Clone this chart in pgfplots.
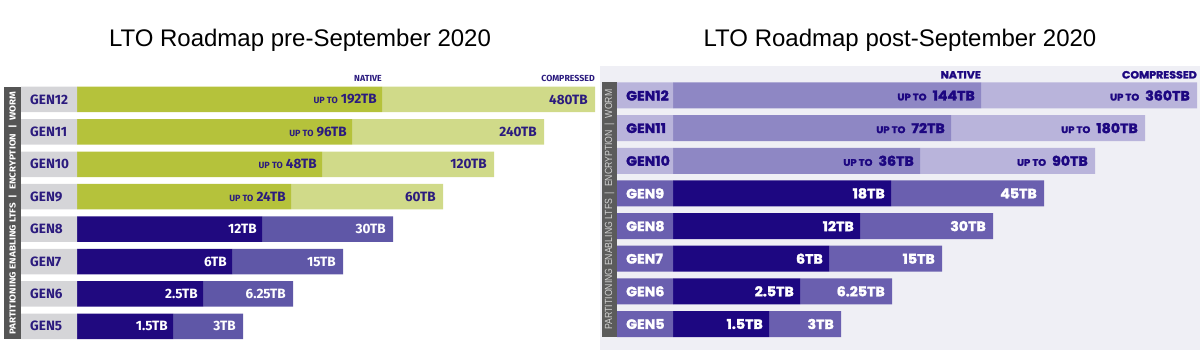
\documentclass[border=0pt]{standalone}
\usepackage{fontspec}
\setmainfont{Liberation Sans}
\newfontfamily\fira{Fira Sans}
\newfontfamily\pop{Poppins}[BoldFeatures={FakeBold=2,FakeStretch=1.05}]
\usepackage{pgfplots}
\usepackage{pgfplotstable}
\pgfplotsset{compat=1.18}

\definecolor{greenA}{HTML}{B5C23B}
\definecolor{greenB}{HTML}{D0DA89}
\definecolor{navyA}{HTML}{20097F}
\definecolor{navyB}{HTML}{5F57A7}
\definecolor{lgray}{HTML}{D5D5D8}
\definecolor{navytxt}{HTML}{2B1B7E}
\definecolor{sideL}{HTML}{555555}
\definecolor{lavA}{HTML}{8E87C4}
\definecolor{lavB}{HTML}{B9B4DB}
\definecolor{purp}{HTML}{6A5FAF}
\definecolor{rnavy}{HTML}{1D0781}
\definecolor{rbg}{HTML}{EFEFF5}
\definecolor{sideR}{HTML}{5B5B5B}
\definecolor{sideRtxt}{HTML}{D2D2D2}

\NewDocumentCommand\upL{}{{\fontsize{9}{9}\selectfont UP TO}\ }
\NewDocumentCommand\upR{}{{\fontsize{9.5}{9.5}\selectfont UP TO}\ \ }

% columns: y = row centre, s = label box start, b = label box end,
% n = end of native bar, c = end of compressed bar (all in picture px)
\pgfplotstableread[col sep=comma]{
y,s,b,n,c,gen,nl,cl
99.5,21,77,382,595,GEN12,{\upL 192TB},480TB
131.9,21,77,352,544,GEN11,{\upL 96TB},240TB
164.3,21,77,322,494,GEN10,{\upL 48TB},120TB
196.7,21,77,291,443,GEN9,{\upL 24TB},60TB
}\LT
\pgfplotstableread[col sep=comma]{
y,s,b,n,c,gen,nl,cl
229.1,21,77,262,393,GEN8,12TB,30TB
261.5,21,77,232,343,GEN7,6TB,15TB
293.9,21,77,203,293,GEN6,2.5TB,6.25TB
326.3,21,77,173,243,GEN5,1.5TB,3TB
}\LB
\pgfplotstableread[col sep=comma]{
y,s,b,n,c,gen,nl,cl
95.5,617,673,981,1197,GEN12,{\upR 144TB},{\upR 360TB}
128.1,617,673,951,1145,GEN11,{\upR 72TB},{\upR 180TB}
160.8,617,673,920,1095,GEN10,{\upR 36TB},{\upR 90TB}
}\RT
\pgfplotstableread[col sep=comma]{
y,s,b,n,c,gen,nl,cl
193.4,617,673,891,1044,GEN9,18TB,45TB
226.1,617,673,860,993,GEN8,12TB,30TB
258.7,617,673,829,942,GEN7,6TB,15TB
291.3,617,673,800,892,GEN6,2.5TB,6.25TB
324.0,617,673,769,841,GEN5,1.5TB,3TB
}\RB

\tikzset{
  fL/.style={font=\fira\bfseries\fontsize{13.5}{13.5}\selectfont},
  fR/.style={font=\pop\bfseries\fontsize{13.5}{13.5}\selectfont},
}
\pgfplotsset{
  base/.style={scale only axis, height=350pt, ymin=0, ymax=350,
    y dir=reverse, hide axis, clip=false},
  full/.style={base, width=1200pt, xmin=0, xmax=1200},
  panelL/.style={base, width=600pt, xmin=0, xmax=600},
  panelR/.style={base, width=600pt, xmin=600, xmax=1200, at={(600pt,0pt)}},
  bars/.style={xbar stacked, bar width=25.5},
  txt/.style n args={4}{draw=none, mark=none, point meta=explicit symbolic,
    nodes near coords={\pgfplotspointmeta},
    every node near coord/.append style={anchor=#1, xshift=#2, inner sep=0pt, #3, text=#4}},
}

\begin{document}
\begin{tikzpicture}
\useasboundingbox (0,0) rectangle (1200pt,350pt);
% background and side bars
\begin{axis}[full]
\addplot[fill=rbg, draw=none, mark=none] coordinates {(600,66) (1200,66) (1200,350) (600,350)};
\addplot[fill=sideL, draw=none, mark=none] coordinates {(4,86.7) (21,86.7) (21,339.1) (4,339.1)};
\addplot[fill=sideR, draw=none, mark=none] coordinates {(602,82.5) (617,82.5) (617,337) (602,337)};
\end{axis}

% left panel, GEN9-12
\begin{axis}[panelL, bars]
\addplot[draw=none, fill=none] table[x=s, y=y] {\LT};
\addplot[fill=lgray, draw=none] table[x expr=\thisrow{b}-\thisrow{s}, y=y] {\LT};
\addplot[fill=greenA, draw=none] table[x expr=\thisrow{n}-\thisrow{b}, y=y] {\LT};
\addplot[fill=greenB, draw=none] table[x expr=\thisrow{c}-\thisrow{n}, y=y] {\LT};
\end{axis}
% left panel, GEN5-8
\begin{axis}[panelL, bars]
\addplot[draw=none, fill=none] table[x=s, y=y] {\LB};
\addplot[fill=lgray, draw=none] table[x expr=\thisrow{b}-\thisrow{s}, y=y] {\LB};
\addplot[fill=navyA, draw=none] table[x expr=\thisrow{n}-\thisrow{b}, y=y] {\LB};
\addplot[fill=navyB, draw=none] table[x expr=\thisrow{c}-\thisrow{n}, y=y] {\LB};
\end{axis}
% right panel, GEN10-12
\begin{axis}[panelR, bars, bar width=26]
\addplot[draw=none, fill=none] table[x=s, y=y] {\RT};
\addplot[fill=lavB, draw=none] table[x expr=\thisrow{b}-\thisrow{s}, y=y] {\RT};
\addplot[fill=lavA, draw=none] table[x expr=\thisrow{n}-\thisrow{b}, y=y] {\RT};
\addplot[fill=lavB, draw=none] table[x expr=\thisrow{c}-\thisrow{n}, y=y] {\RT};
\end{axis}
% right panel, GEN5-9
\begin{axis}[panelR, bars, bar width=26]
\addplot[draw=none, fill=none] table[x=s, y=y] {\RB};
\addplot[fill=purp, draw=none] table[x expr=\thisrow{b}-\thisrow{s}, y=y] {\RB};
\addplot[fill=rnavy, draw=none] table[x expr=\thisrow{n}-\thisrow{b}, y=y] {\RB};
\addplot[fill=purp, draw=none] table[x expr=\thisrow{c}-\thisrow{n}, y=y] {\RB};
\end{axis}

% texts
\begin{axis}[full]
\addplot[txt={west}{9pt}{fL}{navytxt}] table[x=s, y=y, meta=gen] {\LT};
\addplot[txt={east}{-5pt}{fL}{navytxt}] table[x=n, y=y, meta=nl] {\LT};
\addplot[txt={east}{-7pt}{fL}{navytxt}] table[x=c, y=y, meta=cl] {\LT};
\addplot[txt={west}{9pt}{fL}{navytxt}] table[x=s, y=y, meta=gen] {\LB};
\addplot[txt={east}{-5pt}{fL}{white}] table[x=n, y=y, meta=nl] {\LB};
\addplot[txt={east}{-7pt}{fL}{white}] table[x=c, y=y, meta=cl] {\LB};
\addplot[txt={west}{9pt}{fR}{rnavy}] table[x=s, y=y, meta=gen] {\RT};
\addplot[txt={east}{-6pt}{fR}{rnavy}] table[x=n, y=y, meta=nl] {\RT};
\addplot[txt={east}{-7pt}{fR}{rnavy}] table[x=c, y=y, meta=cl] {\RT};
\addplot[txt={west}{9pt}{fR}{white}] table[x=s, y=y, meta=gen] {\RB};
\addplot[txt={east}{-6pt}{fR}{white}] table[x=n, y=y, meta=nl] {\RB};
\addplot[txt={east}{-7pt}{fR}{white}] table[x=c, y=y, meta=cl] {\RB};
\node[anchor=base, font=\fontsize{24}{24}\selectfont] at (axis cs:300,47) {LTO Roadmap pre-September 2020};
\node[anchor=base, font=\fontsize{24}{24}\selectfont] at (axis cs:900,47) {LTO Roadmap post-September 2020};
\node[anchor=base east, inner sep=0pt, font=\fira\bfseries\fontsize{8.8}{8.8}\selectfont, text=navytxt] at (axis cs:382,82) {NATIVE};
\node[anchor=base east, inner sep=0pt, font=\fira\bfseries\fontsize{8.8}{8.8}\selectfont, text=navytxt] at (axis cs:595,82) {COMPRESSED};
\node[anchor=base east, inner sep=0pt, font=\pop\bfseries\fontsize{10.5}{10.5}\selectfont, text=rnavy] at (axis cs:981,78.5) {NATIVE};
\node[anchor=base east, inner sep=0pt, font=\pop\bfseries\fontsize{10.5}{10.5}\selectfont, text=rnavy] at (axis cs:1197,78.5) {COMPRESSED};
\node[rotate=90, text=white, inner sep=0pt] at (axis cs:12.5,213)
  {\resizebox{243pt}{7pt}{\fira\bfseries PARTITIONING ENABLING LTFS \ | \ ENCRYPTION \ | \ WORM}};
\node[rotate=90, text=sideRtxt, inner sep=0pt] at (axis cs:609.5,209.5)
  {\resizebox{240pt}{7.5pt}{PARTITIONING ENABLING LTFS \ | \ ENCRYPTION \ | \ WORM}};
\end{axis}
\end{tikzpicture}
\end{document}
